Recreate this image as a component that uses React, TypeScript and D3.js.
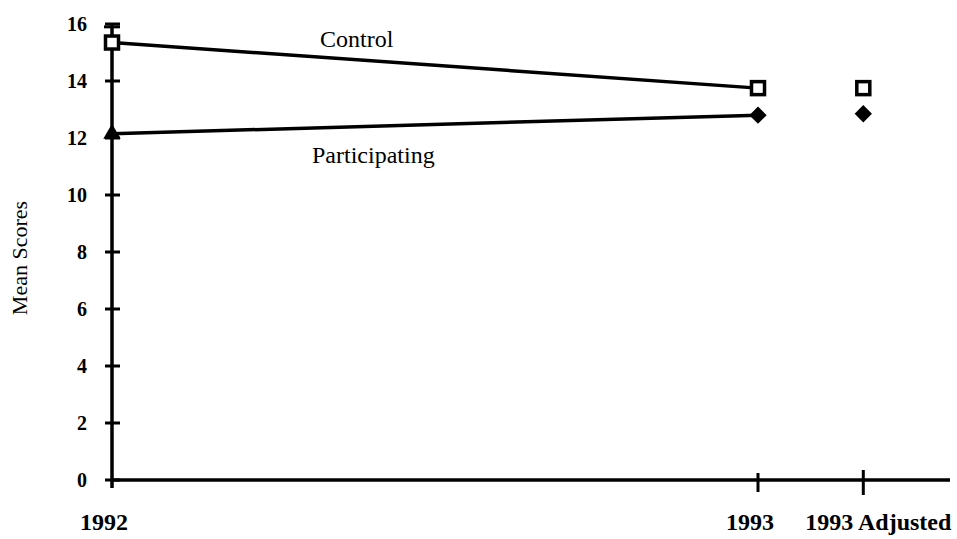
import React, { useEffect, useRef } from "react";
import * as d3 from "d3";

// categories and relative positions along the x axis
const categories = ["1992", "1993", "1993 Adjusted"];
const catPos = [0, 1, 1.163];
const control = [15.35, 13.75, 13.75];
const participating = [12.15, 12.8, 12.85];
const controlErrTop = 15.9;
const yTicks = [0, 2, 4, 6, 8, 10, 12, 14, 16];

const App = () => {
  const ref = useRef<SVGSVGElement>(null);

  useEffect(() => {
    const width = 957, height = 539;
    const svg = d3.select(ref.current);
    svg.selectAll("*").remove();
    svg.attr("width", width).attr("height", height);

    const font = "'Liberation Serif', 'Times New Roman', serif";
    const x = d3.scaleLinear().domain([0, 1]).range([112, 758]);
    const y = d3.scaleLinear().domain([0, 16]).range([480, 24]);
    const xEnd = 950;

    const g = svg.append("g");

    // y axis
    g.append("line")
      .attr("x1", x(0)).attr("x2", x(0))
      .attr("y1", y(0) + 8).attr("y2", y(16))
      .attr("stroke", "#000").attr("stroke-width", 3.5);
    yTicks.forEach(t => {
      g.append("line")
        .attr("x1", x(0) - 7).attr("x2", x(0) + 8)
        .attr("y1", y(t)).attr("y2", y(t))
        .attr("stroke", "#000").attr("stroke-width", 3);
      g.append("text")
        .attr("x", 87).attr("y", y(t)).attr("dy", "0.35em")
        .attr("text-anchor", "end")
        .attr("font-family", font).attr("font-weight", "bold").attr("font-size", 20)
        .text(t);
    });

    // x axis
    g.append("line")
      .attr("x1", x(0)).attr("x2", xEnd)
      .attr("y1", y(0)).attr("y2", y(0))
      .attr("stroke", "#000").attr("stroke-width", 3.5);
    categories.forEach((c, i) => {
      if (i > 0) {
        g.append("line")
          .attr("x1", x(catPos[i])).attr("x2", x(catPos[i]))
          .attr("y1", y(0) - (i === 2 ? 10 : 7)).attr("y2", y(0) + (i === 2 ? 15 : 12))
          .attr("stroke", "#000").attr("stroke-width", 3);
      }
      g.append("text")
        .attr("x", i === 2 ? x(catPos[i]) - 58 : x(catPos[i]) - 8)
        .attr("y", 530)
        .attr("text-anchor", i === 2 ? "start" : "middle")
        .attr("font-family", font).attr("font-weight", "bold").attr("font-size", 24)
        .text(c);
    });

    // y axis title
    g.append("text")
      .attr("transform", `translate(27, 258) rotate(-90)`)
      .attr("text-anchor", "middle")
      .attr("font-family", font).attr("font-size", 22)
      .text("Mean Scores");

    // error bar cap on 1992 control
    g.append("line")
      .attr("x1", x(0) - 8).attr("x2", x(0) + 8)
      .attr("y1", y(controlErrTop)).attr("y2", y(controlErrTop))
      .attr("stroke", "#000").attr("stroke-width", 3);

    const line = d3.line<number>().x((_, i) => x(catPos[i])).y(d => y(d));
    g.append("path").datum(control.slice(0, 2)).attr("d", line)
      .attr("fill", "none").attr("stroke", "#000").attr("stroke-width", 3.5);
    g.append("path").datum(participating.slice(0, 2)).attr("d", line)
      .attr("fill", "none").attr("stroke", "#000").attr("stroke-width", 3.5);

    // markers
    control.forEach((v, i) => {
      g.append("rect")
        .attr("x", x(catPos[i]) - 6.5).attr("y", y(v) - 6.5)
        .attr("width", 13).attr("height", 13)
        .attr("fill", "#fff").attr("stroke", "#000").attr("stroke-width", 3.5);
    });
    participating.forEach((v, i) => {
      const sym = d3.symbol().type(i === 0 ? d3.symbolTriangle : d3.symbolSquare).size(i === 0 ? 130 : 150);
      g.append("path")
        .attr("d", sym()!)
        .attr("transform", `translate(${x(catPos[i])},${y(v)}) rotate(${i === 0 ? 0 : 45})`)
        .attr("fill", "#000");
    });

    // series labels
    g.append("text")
      .attr("x", 320).attr("y", 47)
      .attr("font-family", font).attr("font-size", 24)
      .text("Control");
    g.append("text")
      .attr("x", 312).attr("y", 163)
      .attr("font-family", font).attr("font-size", 24)
      .text("Participating");
  }, []);

  return <svg ref={ref} style={{ position: "absolute", left: 0, top: 0 }}></svg>;
};

export default App;
